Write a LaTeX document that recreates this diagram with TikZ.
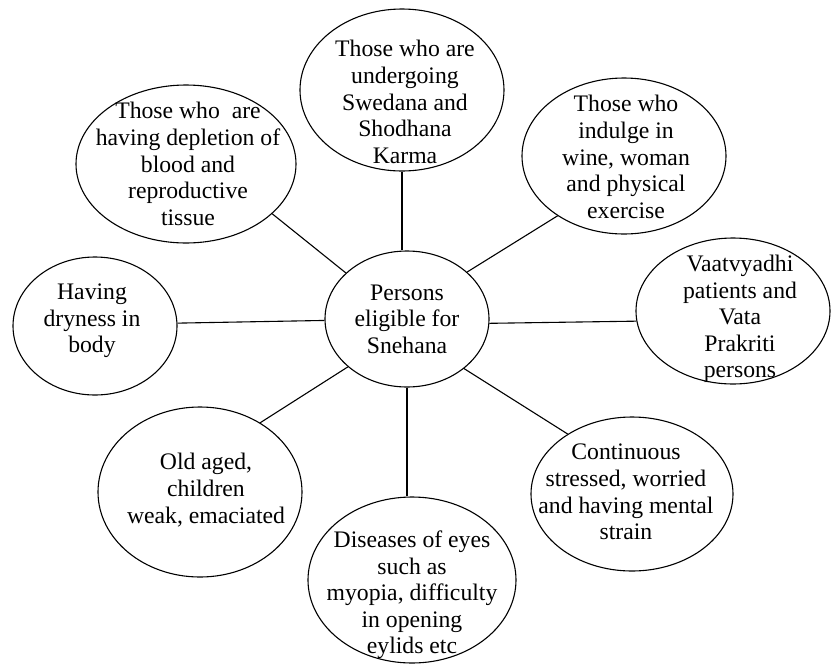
\documentclass[tikz,border=0pt]{standalone}
\usepackage{fontspec}
\setmainfont{Liberation Serif}
\usetikzlibrary{shapes.geometric}
\tikzset{
  bubble/.style={draw=black, ellipse, line width=1.1pt, inner sep=0pt},
  label/.style={align=center, inner sep=0pt, font=\fontsize{23.7}{26.6}\selectfont},
  link/.style={draw=black, line width=1.1pt}
}
\begin{document}
\begin{tikzpicture}[x=1pt,y=-1pt]
\useasboundingbox (0,0) rectangle (831,665);
% ellipses
\node[bubble, minimum width=164pt, minimum height=136pt] (c)  at (407,319) {};
\node[bubble, minimum width=220pt, minimum height=158pt] (tl) at (186,164) {};
\node[bubble, minimum width=204pt, minimum height=162pt] (t)  at (402,90)  {};
\node[bubble, minimum width=204pt, minimum height=156pt] (tr) at (624,156) {};
\node[bubble, minimum width=194pt, minimum height=146pt] (r)  at (733,311) {};
\node[bubble, minimum width=164pt, minimum height=138pt] (l)  at (95,326)  {};
\node[bubble, minimum width=204pt, minimum height=170pt] (bl) at (200,492) {};
\node[bubble, minimum width=208pt, minimum height=166pt] (b)  at (412,580) {};
\node[bubble, minimum width=202pt, minimum height=154pt] (br) at (632,494) {};
% texts
\node[label] (cT)  at (407,319) {Persons\\eligible for\\Snehana};
\node[label] (tlT) at (188,164) {Those who\ \ are\\having depletion of\\blood and\\reproductive\\tissue};
\node[label] (tT)  at (405,102) {Those who are\\undergoing\\Swedana and\\Shodhana\\Karma};
\node[label] (trT) at (626,157) {Those who\\indulge in\\wine, woman\\and physical\\exercise};
\node[label] (rT)  at (740,319) {Vaatvyadhi\\patients and\\Vata\\Prakriti\\persons};
\node[label] (lT)  at (92,321)  {Having\\dryness in\\body};
\node[label] (blT) at (206,490) {Old aged,\\children\\weak, emaciated};
\node[label] (bT)  at (412,595) {Diseases of eyes\\such as\\myopia, difficulty\\in opening\\eylids etc};
\node[label] (brT) at (626,492) {Continuous\\stressed, worried\\and having mental\\strain};
% connectors
\draw[link] (tl.-30) -- (c.143);
\draw[link] (t.south) -- (t.south |- c.north);
\draw[link] (tr.-138) -- (c.38);
\draw[link] (l.2) -- (c.181);
\draw[link] (c.-3) -- (r.186);
\draw[link] (c.-141) -- (bl.49);
\draw[link] (c.south) -- (c.south |- b.north);
\draw[link] (c.-41) -- (br.137);
\end{tikzpicture}
\end{document}
